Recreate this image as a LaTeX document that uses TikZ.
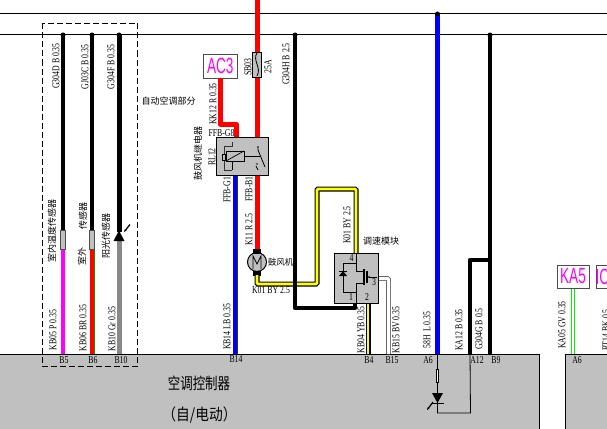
\documentclass[tikz,border=0pt]{standalone}
\usepackage{fontspec}
\setmainfont{Liberation Serif}
\newfontfamily\cjk{Noto Sans CJK SC}
\newfontfamily\plugfont{Liberation Sans}
\usetikzlibrary{arrows.meta}
\definecolor{blockgray}{RGB}{192,192,192}
\definecolor{wiregray}{RGB}{136,136,136}
\definecolor{pinkw}{RGB}{255,0,255}
\definecolor{yellowc}{RGB}{255,255,0}
\definecolor{greenc}{RGB}{0,240,0}
\tikzset{
  tag/.style={font=\fontsize{10.5}{10.5}\selectfont,rotate=90,xscale=.74,inner sep=0pt},
  flat/.style={font=\fontsize{10.5}{10.5}\selectfont,xscale=.74,inner sep=0pt},
  hanzi/.style={font=\cjk\fontsize{9}{9}\selectfont,rotate=90,inner sep=0pt},
  connector/.style={draw=black!70,fill=white,minimum width=34pt,minimum height=24pt,inner sep=0pt,text=pinkw,font=\plugfont\fontsize{22}{22}\selectfont},
  thinw/.style={line width=.8pt},
  blackw/.style={line width=4.5pt,black},
  redw/.style={line width=5pt,red},
  yelloww/.style={line width=2.8pt,yellowc},
  yellowb/.style={line width=5pt,black}
}
\begin{document}
\begin{tikzpicture}[x=1pt,y=-1pt]
  \useasboundingbox (0,0) rectangle (607,428);
  \fill[white] (0,0) rectangle (607,428);

  % rails
  \coordinate (railAl) at (0,14);   \coordinate (railAr) at (607,14);
  \coordinate (railBl) at (0,35);   \coordinate (railBr) at (607,35);
  \draw[line width=1pt] (railAl) -- (railAr);
  \draw[line width=1pt] (railBl) -- (railBr);

  % controller blocks
  \node[draw=black,fill=blockgray,line width=.8pt,minimum width=539.5pt,minimum height=76pt,inner sep=0pt,anchor=north west] (ctrl) at (-1,354) {};
  \node[draw=black,fill=blockgray,line width=.8pt,minimum width=44pt,minimum height=76pt,inner sep=0pt,anchor=north west] (ctrlb) at (564.5,354) {};
  \node[font=\cjk\fontsize{16}{16}\selectfont,xscale=.78,inner sep=0pt] (ctrlname) at (199,383) {空调控制器};
  \node[font=\cjk\fontsize{16}{16}\selectfont,xscale=.86,inner sep=0pt] (ctrlkind) at (199.5,415) {（自/电动）};

  % sensor wires
  \coordinate (s1t) at (63,35);  \coordinate (s1m) at (63,230); \coordinate (s1c) at (63,250);
  \coordinate (s2t) at (92,35);  \coordinate (s2m) at (92,230); \coordinate (s2c) at (92,250);
  \coordinate (s3t) at (119,35); \coordinate (s3m) at (119,232); \coordinate (s3c) at (119,241);
  \coordinate (s1b) at (63,354); \coordinate (s2b) at (92,354); \coordinate (s3b) at (119,354);
  \draw[blackw] (s1t) -- (s1m);
  \draw[blackw] (s2t) -- (s2m);
  \draw[line width=5pt] (s3t) -- (s3m);
  \fill (s1t) circle (2.5pt) (s2t) circle (2.5pt) (s3t) circle (2.5pt);
  \draw[line width=4.5pt,pinkw] (s1c) -- (s1b);
  \draw[line width=5pt,green!60!black] (s2c) -- (s2b);
  \draw[line width=3.6pt,red] (s2c) -- (s2b);
  \draw[line width=5pt,wiregray] (s3c) -- (s3b);
  \draw[draw=black!70,fill=blockgray,line width=.7pt] (60.5,230) rectangle (65.5,249.5);
  \draw[draw=black!70,fill=blockgray,line width=.7pt] (89.5,230) rectangle (94.5,249.5);
  \fill (113.5,241) -- (124.5,241) -- (119,230.5) -- cycle;
  \draw[-{Stealth[length=3pt]},line width=1.2pt] (130,224.5) -- (124,232);
  \draw[dash pattern=on 6pt off 3pt,line width=.8pt] (42.5,23.5) rectangle (137.5,366);

  \node[tag] (g304d) at (56,66) {G304D B 0.35};
  \node[tag] (g103c) at (85,67) {GJ03C B 0.35};
  \node[tag] (g304f) at (111,67) {G304F B 0.35};
  \node[tag] (kb05) at (53,330) {KB05 P 0.35};
  \node[tag] (kb06) at (83,328) {KB06 BR 0.35};
  \node[tag] (kb10) at (112,329) {KB10 Gr 0.35};
  \node[hanzi] (tempin) at (52,231) {室内温度传感器};
  \node[hanzi] (tempouta) at (82,256) {室外};
  \node[hanzi] (tempoutb) at (83,216) {传感器};
  \node[hanzi] (sunsens) at (106,236) {阳光传感器};
  \node[flat] (b5) at (64,360) {B5};
  \node[flat] (b6) at (93,360) {B6};
  \node[flat] (b10) at (121,360) {B10};
  \node[font=\cjk\fontsize{9}{9}\selectfont,inner sep=0pt] (autoac) at (168.5,101) {自动空调部分};

  % blower relay
  \coordinate (fusein) at (257,0); \coordinate (fuseout) at (257,137);
  \coordinate (relayno) at (257,174); \coordinate (motortop) at (257,250);
  \draw[redw] (fusein) -- (fuseout);
  \node[connector] (ac3) at (220.3,66.3) {\scalebox{.62}[1]{AC3}};
  \coordinate (ac3a) at (220,78); \coordinate (ac3b) at (220,124); \coordinate (ac3c) at (236,124); \coordinate (ac3d) at (236,137);
  \draw[redw,line join=round] (ac3a) -- (ac3b) -- (ac3c) -- (ac3d);
  \node[draw=black,fill=blockgray,line width=.8pt,minimum width=9.5pt,minimum height=25pt,inner sep=0pt] (sb03) at (257,64.5) {};
  \draw[line width=.8pt] (257,53) .. controls (252,60) and (262,68) .. (257,76);
  \node[tag] (sb03t) at (248,67) {SB03};
  \node[tag] (sb03a) at (268,67) {25A};
  \node[tag] (kk12) at (213,104) {KK12 R 0.35};
  \node[tag] (g304h) at (286,64) {G304H B 2.5};
  \node[flat] (ffbg8) at (221.5,133) {FFB-G8};
  \node[tag] (ffbg1) at (227,190) {FFB-G1};
  \node[tag] (ffbb1) at (249,189) {FFB-B1};
  \node[tag] (k11) at (249,230) {K11 R 2.5};
  \node[tag] (rl12) at (212,157) {RL12};
  \node[hanzi] (relayname) at (198,153) {鼓风机继电器};
  \coordinate (bluet) at (235,175); \coordinate (blueb) at (235,354);
  \draw[line width=5pt,black!80] (bluet) -- (blueb);
  \draw[line width=3.2pt,blue] (bluet) -- (blueb);
  \draw[redw] (relayno) -- (motortop);
  \node[draw=black,fill=blockgray,line width=.8pt,minimum width=52pt,minimum height=38pt,inner sep=0pt] (relay) at (242.5,156) {};
  \draw[line width=.7pt,black!80] (232,142) -- (232,146) -- (224,146) -- (224,170) -- (232,170);
  \draw[line width=.7pt,fill=blockgray] (222,154) rectangle (225,160);
  \draw[line width=.8pt,fill=blockgray] (226,151) rectangle (244,161);
  \draw[line width=.7pt] (226,161) -- (244,151);
  \draw[line width=.7pt] (232,161) -- (232,170);
  \draw[line width=.7pt] (244,156) -- (260,156);
  \draw[line width=.8pt] (258,146) -- (258,150) -- (265,167);
  \draw[line width=.7pt] (256,166) -- (258,170);
  \fill[black!70] (258,147) circle (1.2pt) (257,164) circle (1.2pt);

  % blower motor
  \node[draw=black,fill=blockgray,circle,line width=1pt,minimum size=19pt,inner sep=0pt] (motor) at (257,262) {};
  \draw[line width=.8pt] (253,269) -- (253,256) -- (257,264) -- (261,256) -- (261,269);
  \fill (253,249) rectangle (261,253.5);
  \fill (253,270.5) rectangle (261,275.5);
  \node[font=\cjk\fontsize{8.5}{8.5}\selectfont,inner sep=0pt] (blowname) at (280.5,262) {鼓风机};
  \node[flat] (k01h) at (271,290) {K01 BY 2.5};
  \node[tag] (k01v) at (347,225) {K01 BY 2.5};

  % speed module
  \coordinate (y1) at (257,275); \coordinate (y2) at (257,284); \coordinate (y3) at (317,284);
  \coordinate (y4) at (317,189); \coordinate (y5) at (356,189); \coordinate (y6) at (356,253);
  \coordinate (gh1) at (295,35); \coordinate (gh2) at (295,308); \coordinate (gh3) at (355,308); \coordinate (gh4) at (355,302);
  \draw[yellowb,rounded corners=1pt] (y1) -- (y2) -- (y3) -- (y4) -- (y5) -- (y6);
  \draw[yelloww,rounded corners=1pt] (y1) -- (y2) -- (y3) -- (y4) -- (y5) -- (y6);
  \draw[blackw,line join=round] (gh1) -- (gh2) -- (gh3) -- (gh4);
  \fill (gh1) circle (2.5pt);
  \coordinate (kb4a) at (368,302); \coordinate (kb4b) at (368,354);
  \draw[yellowb] (kb4a) -- (kb4b);
  \draw[yelloww] (kb4a) -- (kb4b);
  \coordinate (bv1) at (377,278.5); \coordinate (bv2) at (388.5,278.5); \coordinate (bv3) at (388.5,354);
  \draw[line width=4.6pt,black!60,rounded corners=1pt] (bv1) -- (bv2) -- (bv3);
  \draw[line width=3pt,white,rounded corners=1pt] (bv1) -- (bv2) -- (bv3);
  \node[draw=black,fill=blockgray,line width=.8pt,minimum width=43.5pt,minimum height=49.5pt,inner sep=0pt,anchor=north west] (module) at (334,253) {};
  \draw[line width=.7pt] (356,253) -- (356,271) -- (364,271);
  \draw[line width=.7pt] (356,302.5) -- (356,283) -- (364,283);
  \draw[line width=.7pt] (356,263) -- (343,263) -- (343,292) -- (356,292);
  \draw[line width=.7pt] (339,271) -- (347,271);
  \fill (339,276) -- (347,276) -- (343,271) -- cycle;
  \draw[line width=1.1pt] (364,269) -- (364,285);
  \draw[line width=1.1pt] (367,271) -- (367,283);
  \draw[line width=.7pt,-{Stealth[length=3pt,open]}] (377,277) -- (367,277);
  \node[flat] (m4) at (351.5,258) {4};
  \node[flat] (m1) at (351,297) {1};
  \node[flat] (m2) at (367,297) {2};
  \node[flat] (m3) at (374,282.5) {3};
  \node[font=\cjk\fontsize{9}{9}\selectfont,inner sep=0pt] (modname) at (381,241) {调速模块};
  \node[tag] (kb04) at (361,330) {KB04 YB 0.35};
  \node[tag] (kb15) at (396,330) {KB15 BV 0.35};
  \node[flat] (b14) at (236,359.5) {B14};
  \node[flat] (b4) at (369,360) {B4};
  \node[flat] (b15) at (392,360) {B15};
  \node[tag] (kb14) at (227,327) {KB14 LB 0.35};

  % right hand wires
  \coordinate (lt) at (437.5,14); \coordinate (lb) at (437.5,354);
  \coordinate (g1) at (490,35); \coordinate (g2) at (490,354);
  \coordinate (g3) at (490,260); \coordinate (g4) at (470,260); \coordinate (g5) at (470,354);
  \draw[line width=5pt,blue] (lt) -- (lb);
  \fill (lt) circle (2.5pt);
  \draw[blackw] (g1) -- (g2);
  \fill (g1) circle (2.5pt);
  \draw[blackw,line join=round] (g3) -- (g4) -- (g5);
  \coordinate (leda) at (437.5,403); \coordinate (ledb) at (437.5,413); \coordinate (ledc) at (470.5,413);
  \draw[thinw] (lb) -- (leda) -- (ledb) -- (ledc) -- (g5);
  \node[draw=black,fill=white,line width=.7pt,minimum width=2.5pt,minimum height=13pt,inner sep=0pt] (ledr) at (437.5,376) {};
  \fill (432,393) -- (443,393) -- (437.5,403) -- cycle;
  \draw[thinw] (431,403) -- (444,403);
  \draw[-{Stealth[length=3pt]},line width=1.2pt] (433,402) -- (427,410);
  \node[tag] (h58) at (427,330) {58H\, L 0.35};
  \node[tag] (ka12) at (459,330) {KA12 B 0.35};
  \node[tag] (g304g) at (479,329) {G304G B 0.5};
  \node[flat] (a6) at (428,360) {A6};
  \node[flat] (a12) at (477,360) {A12};
  \node[flat] (b9) at (496,360) {B9};

  % second block
  \coordinate (kat) at (573,288); \coordinate (kab) at (573,354);
  \draw[line width=4.6pt,greenc] (kat) -- (kab);
  \draw[line width=2.2pt,white] (kat) -- (kab);
  \node[connector,minimum width=32.5pt,minimum height=23pt] (ka5) at (573,276.5) {\scalebox{.62}[1]{KA5}};
  \node[connector,minimum width=32.5pt,minimum height=23pt,anchor=west,align=left] (ic) at (596,276.5) {\hspace*{-20pt}\scalebox{.62}[1]{IC}};
  \node[tag] (ka05) at (562,325) {KA05 GV 0.35};
  \node[tag] (rt14) at (606,330) {RT14 BK 0.5};
  \node[flat] (a6b) at (577,360) {A6};
\end{tikzpicture}
\end{document}
